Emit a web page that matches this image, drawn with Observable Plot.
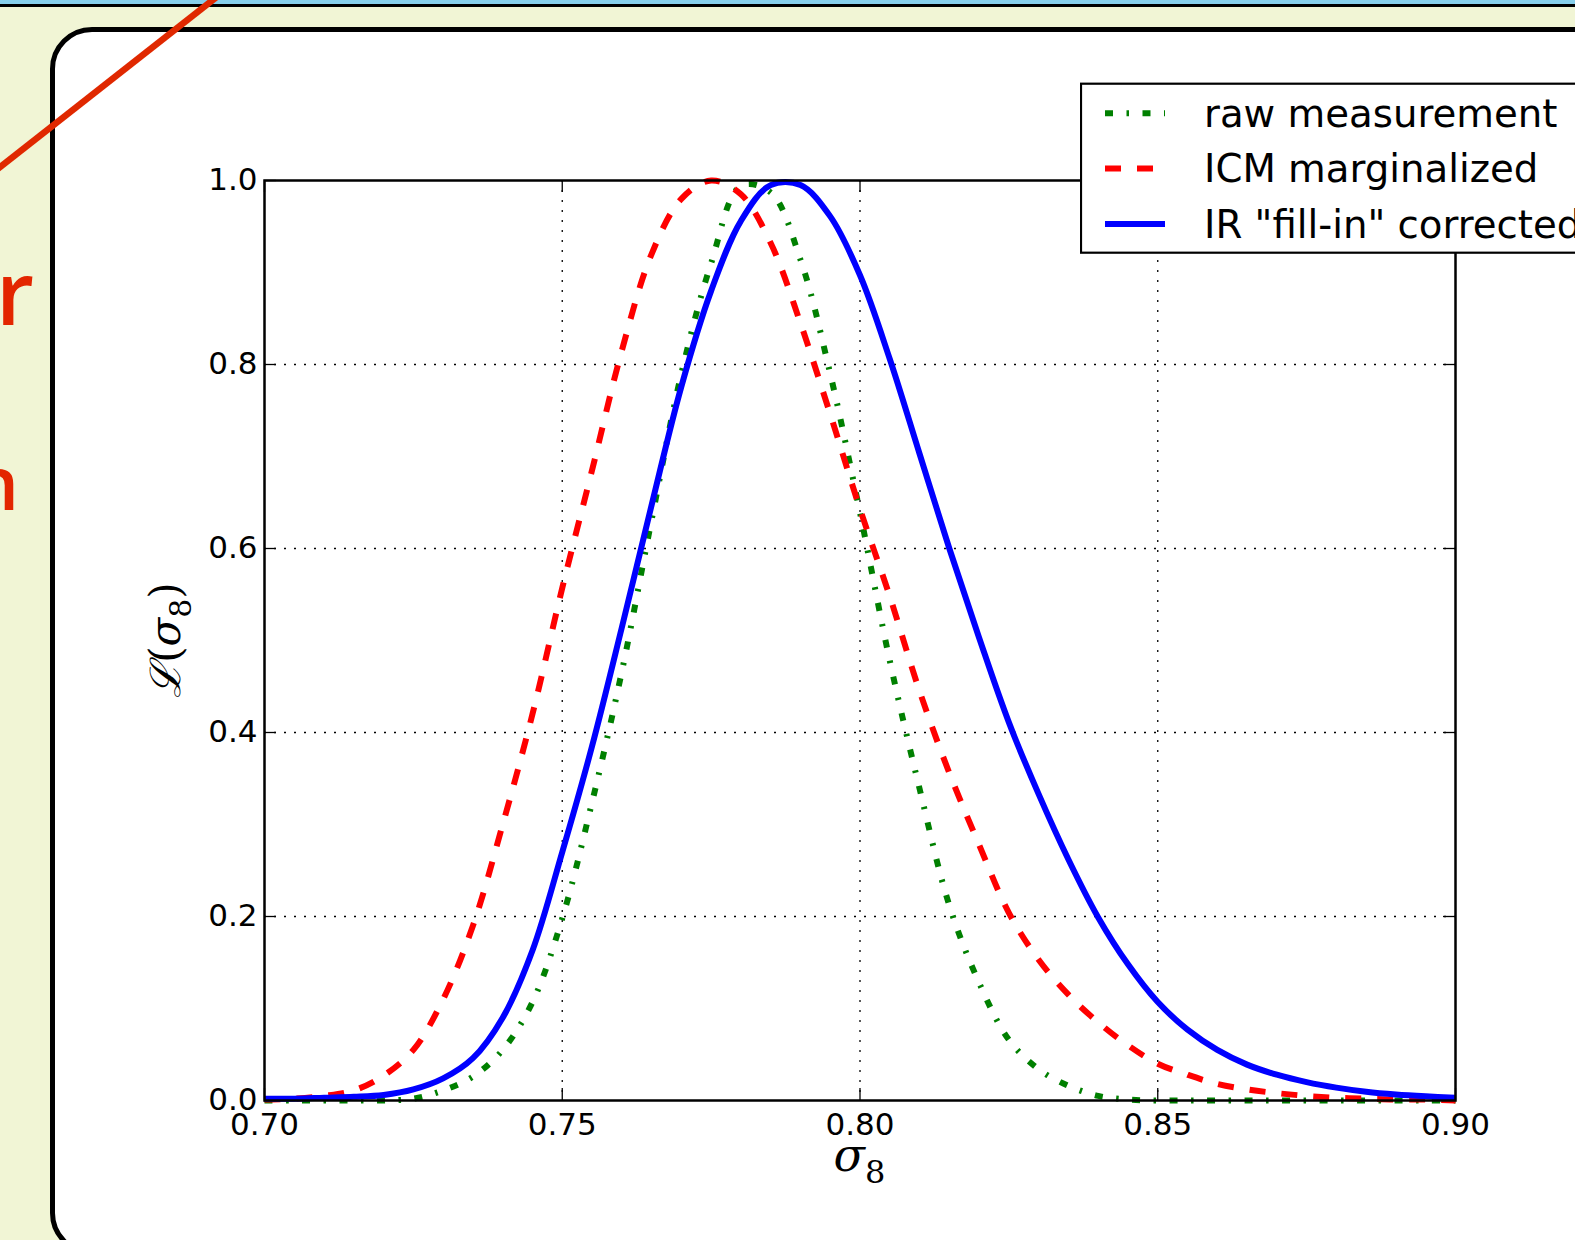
<!DOCTYPE html>
<html><head><meta charset="utf-8">
<script src="https://cdn.jsdelivr.net/npm/d3@7"></script>
<script src="https://cdn.jsdelivr.net/npm/@observablehq/plot@0.6"></script>
<style>
html,body{margin:0;padding:0;}
body{width:1575px;height:1240px;overflow:hidden;position:relative;background:#f1f5d5;font-family:"DejaVu Sans",sans-serif;}
#topbar{position:absolute;left:0;top:0;width:1575px;height:4px;background:#87cfeb;border-bottom:3px solid #000;}
#bg{position:absolute;left:0;top:0;}
#panel{position:absolute;left:50px;top:27px;width:1700px;height:1228px;box-sizing:border-box;border:5px solid #000;border-radius:42px;background:#fff;}
#chart{position:absolute;left:0;top:0;}
#legend{position:absolute;left:1080px;top:82px;}
#slash{position:absolute;left:0;top:0;}
</style></head><body>
<div id="topbar"></div>
<svg id="bg" width="120" height="600">
  <text x="-4" y="325" font-size="88" font-weight="600" font-family="Open Sans" fill="#e32600">r</text>
  <text x="-28" y="510" font-size="74" font-weight="600" font-family="Open Sans" fill="#e32600">n</text>
</svg>
<div id="panel"></div>
<div id="chart"></div>
<div id="legend"></div>
<svg id="slash" width="260" height="200"><line x1="-10" y1="175" x2="223" y2="-8" stroke="#e02800" stroke-width="6.5"/></svg>
<script>
// ---- data ----
const sigma = [0.700,0.705,0.710,0.715,0.720,0.725,0.730,0.735,0.740,0.745,
               0.750,0.755,0.760,0.765,0.770,0.775,0.780,0.785,0.790,0.795,
               0.800,0.805,0.810,0.815,0.820,0.825,0.830,0.835,0.840,0.845,
               0.850,0.855,0.860,0.865,0.870,0.875,0.880,0.885,0.890,0.895,0.900];
const rawMeasurement = [0,0,0,0,0,0.002,0.011,0.026,0.055,0.107,
               0.198,0.324,0.466,0.631,0.790,0.910,0.994,0.987,0.914,0.790,
               0.639,0.478,0.339,0.212,0.128,0.066,0.034,0.016,0.005,0.001,
               0,0,0,0,0,0,0,0,0,0,0];
const icmMarginalized = [0.001,0.002,0.005,0.011,0.027,0.055,0.110,0.190,0.300,0.420,
               0.557,0.685,0.815,0.920,0.980,1.000,0.985,0.932,0.845,0.746,
               0.643,0.548,0.445,0.356,0.278,0.204,0.153,0.115,0.085,0.060,
               0.040,0.028,0.018,0.012,0.008,0.005,0.003,0.002,0.001,0.001,0.000];
const irCorrected = [0.002,0.002,0.003,0.004,0.006,0.012,0.024,0.046,0.090,0.163,
               0.270,0.385,0.514,0.647,0.776,0.880,0.956,0.995,0.995,0.961,
               0.897,0.806,0.703,0.600,0.503,0.411,0.333,0.262,0.199,0.148,
               0.107,0.077,0.055,0.039,0.028,0.020,0.014,0.0095,0.0065,0.0045,0.003];
const seriesNames = ["raw measurement", "ICM marginalized", "IR \"fill-in\" corrected"];
const seriesColors = ["#008000", "#ff0000", "#0000ff"];
const seriesDash = ["8,13.5,2.5,13.5", "16,16", null];
const xTicks = [0.70, 0.75, 0.80, 0.85, 0.90];
const yTicks = [0.0, 0.2, 0.4, 0.6, 0.8, 1.0];

const seriesValues = [rawMeasurement, icmMarginalized, irCorrected];
const rows = seriesValues.map((vals, i) => sigma.map((s, j) => ({series: seriesNames[i], sigma: s, L: vals[j]})));

const W = 1575, H = 1240, mL = 264, mR = 120, mT = 180, mB = 140;
const plotH = H - mT - mB, plotW = W - mL - mR, tickLen = 12;

const chart = Plot.plot({
  width: W, height: H,
  marginLeft: mL, marginRight: mR, marginTop: mT, marginBottom: mB,
  style: {background: "none", fontFamily: "DejaVu Sans", fontSize: "31px", color: "black", overflow: "visible"},
  x: {domain: [0.70, 0.90], ticks: xTicks, tickFormat: d => d.toFixed(2), tickSize: 0, tickPadding: 12, label: null},
  y: {domain: [0, 1], ticks: yTicks, tickFormat: d => d.toFixed(1), tickSize: 0, tickPadding: 7, label: null},
  marks: [
    Plot.ruleX(xTicks.slice(1, -1), {stroke: "black", strokeWidth: 1.3, strokeDasharray: "2,8"}),
    Plot.ruleY(yTicks.slice(1, -1), {stroke: "black", strokeWidth: 1.3, strokeDasharray: "2,8"}),
    Plot.ruleX(xTicks, {stroke: "black", strokeWidth: 1.3, insetTop: plotH - tickLen}),
    Plot.ruleX(xTicks, {stroke: "black", strokeWidth: 1.3, insetBottom: plotH - tickLen}),
    Plot.ruleY(yTicks, {stroke: "black", strokeWidth: 1.3, insetRight: plotW - tickLen}),
    Plot.ruleY(yTicks, {stroke: "black", strokeWidth: 1.3, insetLeft: plotW - tickLen}),
    ...rows.map((data, i) => Plot.line(data, {
      x: "sigma", y: "L", stroke: seriesColors[i], strokeWidth: 6,
      strokeDasharray: seriesDash[i] || undefined, strokeLinecap: "butt", strokeLinejoin: "round",
      curve: "catmull-rom"
    })),
    Plot.frame({stroke: "black", strokeWidth: 2.5})
  ]
});
document.getElementById("chart").appendChild(chart);

// axis titles
const svg = d3.select(chart);
const xl = svg.append("text").attr("x", mL + plotW / 2).attr("y", 1171)
  .attr("text-anchor", "middle").attr("font-family", "DejaVu Serif").attr("fill", "black");
xl.append("tspan").attr("font-size", 46).attr("font-style", "italic").text("σ");
xl.append("tspan").attr("font-size", 32).attr("dy", 12).text("8");

const yl = svg.append("text").attr("transform", `translate(180,${mT + plotH / 2}) rotate(-90)`)
  .attr("text-anchor", "middle").attr("font-family", "DejaVu Serif").attr("font-size", 42).attr("fill", "black");
yl.append("tspan").attr("font-style", "italic").text("ℒ");
yl.append("tspan").text("(");
yl.append("tspan").attr("font-style", "italic").text("σ");
yl.append("tspan").attr("font-size", 30).attr("dy", 11).text("8");
yl.append("tspan").attr("dy", -11).text(")");

// legend
const lg = d3.select("#legend").append("svg").attr("width", 520).attr("height", 175);
lg.append("rect").attr("x", 1).attr("y", 1.7).attr("width", 640).attr("height", 169)
  .attr("fill", "white").attr("stroke", "black").attr("stroke-width", 2.2);
const rowY = [31.3, 86.5, 142];
seriesNames.forEach((name, i) => {
  const g = lg.append("g");
  const ln = g.append("line").attr("x1", 25).attr("x2", 85).attr("y1", rowY[i]).attr("y2", rowY[i])
    .attr("stroke", seriesColors[i]).attr("stroke-width", 6).attr("stroke-linecap", "butt");
  if (seriesDash[i]) ln.attr("stroke-dasharray", seriesDash[i]);
  g.append("text").attr("x", 124).attr("y", rowY[i]).attr("dy", "0.35em")
    .attr("font-family", "DejaVu Sans").attr("font-size", 38.7).attr("fill", "black").text(name);
});
</script>
</body></html>
